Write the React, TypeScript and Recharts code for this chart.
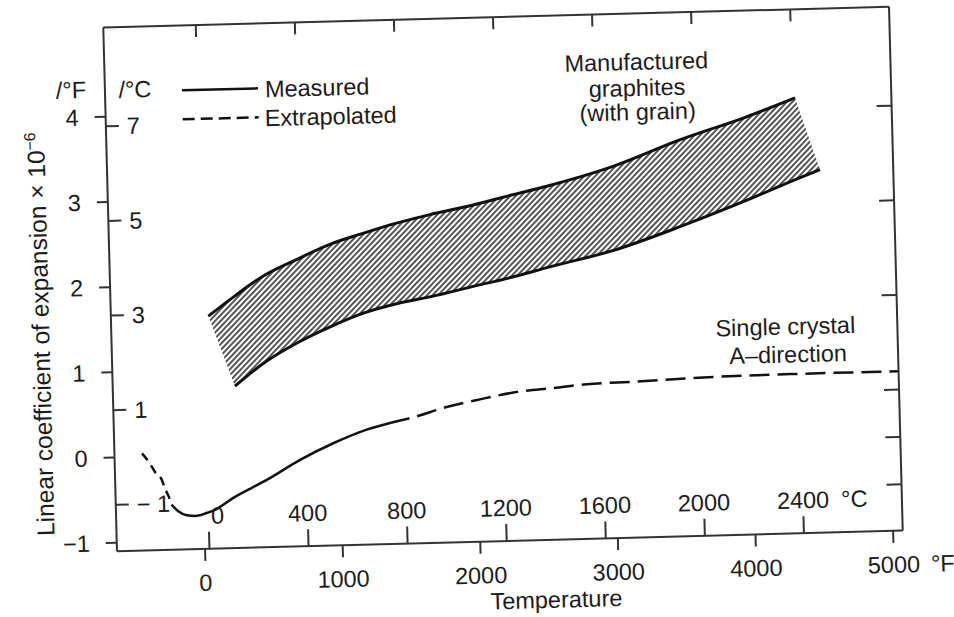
import React from 'react';
import { ComposedChart, XAxis, YAxis, Line, Area } from 'recharts';

const FONT = '"Liberation Sans", Arial, Helvetica, sans-serif';
const INK = '#1c1c1c';
const FRAME = '#333333';

// Temperature scale (°F) with the matching Celsius marks
const fahrenheitTicks = [0, 1000, 2000, 3000, 4000, 5000];
const celsiusTicks = [0, 400, 800, 1200, 1600, 2000, 2400];

// Coefficient scales, ×10⁻⁶ per °F and per °C
const perFTicks = [-1, 0, 1, 2, 3, 4];
const perCTicks = [-1, 1, 3, 5, 7];
const perCRightTicks = [-1, 0, 1, 3, 5, 7];

const tempDomainF: [number, number] = [-640, 5070];
const perFDomain: [number, number] = [-1.1, 5.05];
const perCDomain: [number, number] = [perFDomain[0] * 1.8, perFDomain[1] * 1.8];

// Manufactured graphites (with grain): upper and lower edge of the band
const bandTempF = [68, 248, 460, 710, 955, 1200, 1445, 1690, 2005, 2300, 2550, 3030, 3520, 4010, 4370, 4538];
const bandUpper = [1.63, 1.84, 2.07, 2.26, 2.43, 2.55, 2.66, 2.75, 2.85, 2.96, 3.05, 3.26, 3.55, 3.8, 4.01, 3.16];
const bandLower = [1.63, 0.8, 1.06, 1.29, 1.47, 1.62, 1.72, 1.79, 1.9, 2.0, 2.1, 2.28, 2.54, 2.83, 3.06, 3.16];

// Single crystal, A-direction: extrapolated below, measured, extrapolated above
const crystalLowTempF = [-440, -385, -350, -300, -280, -255, -235];
const crystalLowCoef = [0.04, -0.08, -0.18, -0.28, -0.38, -0.47, -0.57];
const crystalMeasTempF = [-235, -187, -127, -54, 19, 80, 215, 461, 707, 951, 1197, 1367];
const crystalMeasCoef = [-0.57, -0.65, -0.7, -0.71, -0.68, -0.645, -0.51, -0.31, -0.085, 0.1, 0.25, 0.32];
const crystalHighTempF = [1367, 1537, 1782, 2025, 2317, 2559, 2803, 3166, 3578, 4136, 4600, 5070];
const crystalHighCoef = [0.32, 0.38, 0.49, 0.57, 0.65, 0.68, 0.715, 0.73, 0.755, 0.77, 0.772, 0.77];

const toF = (c: number) => (c * 9) / 5 + 32;
const pairs = (xs: number[], ys: number[]) => xs.map((f, i) => ({ f, a: ys[i] }));

const bandRows = bandTempF.map((f, i) => ({ f, range: [bandLower[i], bandUpper[i]] }));
const upperEdge = pairs(bandTempF.slice(0, -1), bandUpper.slice(0, -1));
const lowerEdge = pairs(bandTempF.slice(1), bandLower.slice(1));
const crystalLow = pairs(crystalLowTempF, crystalLowCoef);
const crystalMeas = pairs(crystalMeasTempF, crystalMeasCoef);
const crystalHigh = pairs(crystalHighTempF, crystalHighCoef);

const txt = { fontFamily: FONT, fill: INK, fontSize: 23.5 };

const FTick = (props: any) => {
  const { x, y, payload } = props;
  return (
    <g>
      <text x={x} y={y} dy="0.72em" textAnchor="middle" {...txt}>
        {payload.value}
      </text>
      {payload.value === 5000 && (
        <text x={x + 37} y={y} dy="0.72em" textAnchor="start" {...txt}>
          °F
        </text>
      )}
    </g>
  );
};

const CTick = (props: any) => {
  const { x, y, payload } = props;
  const c = Math.round(((payload.value - 32) * 5) / 9);
  const shift = c === 0 ? 9 : 0;
  return (
    <g>
      <text x={x + shift} y={y} textAnchor="middle" {...txt}>
        {c}
      </text>
      {c === 2400 && (
        <text x={x + 38} y={y} textAnchor="start" {...txt}>
          °C
        </text>
      )}
    </g>
  );
};

const lineProps = { xAxisId: 'f', yAxisId: 'f', dataKey: 'a', dot: false, activeDot: false, isAnimationActive: false } as const;

export default function App() {
  return (
    <div
      style={{
        position: 'absolute',
        left: 0,
        top: 0,
        width: 954,
        height: 617,
        background: '#fff',
        transform: 'rotate(-1.5deg)',
        transformOrigin: '503px 279px',
      }}
    >
      <ComposedChart width={954} height={617} margin={{ top: 17, right: 58, bottom: 26, left: 50 }}>
        <defs>
          <pattern id="hatch" patternUnits="userSpaceOnUse" width="4" height="4" patternTransform="rotate(45)">
            <line x1="1" y1="0" x2="1" y2="4" stroke="#2a2a2a" strokeWidth="1.6" />
          </pattern>
        </defs>

        <XAxis
          xAxisId="f"
          type="number"
          dataKey="f"
          domain={tempDomainF}
          allowDataOverflow
          ticks={fahrenheitTicks}
          interval={0}
          height={50}
          tickSize={12}
          tickMargin={13}
          axisLine={{ stroke: FRAME, strokeWidth: 2 }}
          tickLine={{ stroke: FRAME, strokeWidth: 2 }}
          tick={<FTick />}
        />
        <XAxis
          xAxisId="c"
          type="number"
          dataKey="f"
          domain={tempDomainF}
          allowDataOverflow
          ticks={celsiusTicks.map(toF)}
          interval={0}
          mirror
          axisLine={false}
          tickSize={17}
          tickMargin={8}
          tickLine={{ stroke: FRAME, strokeWidth: 2 }}
          tick={<CTick />}
        />
        <XAxis
          xAxisId="top"
          type="number"
          dataKey="f"
          orientation="top"
          domain={tempDomainF}
          allowDataOverflow
          ticks={celsiusTicks.map(toF)}
          interval={0}
          mirror
          tickSize={12}
          axisLine={{ stroke: FRAME, strokeWidth: 2 }}
          tickLine={{ stroke: FRAME, strokeWidth: 2 }}
          tickFormatter={() => ''}
        />
        <YAxis
          yAxisId="f"
          type="number"
          domain={perFDomain}
          allowDataOverflow
          ticks={perFTicks}
          interval={0}
          width={60}
          tickSize={11}
          tickMargin={16}
          axisLine={{ stroke: FRAME, strokeWidth: 2 }}
          tickLine={{ stroke: FRAME, strokeWidth: 2 }}
          tick={txt}
          tickFormatter={(v: number) => (v < 0 ? `−${Math.abs(v)}` : `${v}`)}
        />
        <YAxis
          yAxisId="c"
          type="number"
          domain={perCDomain}
          allowDataOverflow
          ticks={perCTicks}
          interval={0}
          mirror
          axisLine={false}
          tickSize={13}
          tickMargin={8}
          tickLine={{ stroke: FRAME, strokeWidth: 2 }}
          tick={txt}
          tickFormatter={(v: number) => (v < 0 ? `− ${Math.abs(v)}` : `${v}`)}
        />
        <YAxis
          yAxisId="r"
          type="number"
          orientation="right"
          domain={perCDomain}
          allowDataOverflow
          ticks={perCRightTicks}
          interval={0}
          mirror
          tickSize={15}
          axisLine={{ stroke: FRAME, strokeWidth: 2 }}
          tickLine={{ stroke: FRAME, strokeWidth: 2 }}
          tickFormatter={() => ''}
        />

        <Area
          xAxisId="f"
          yAxisId="f"
          data={bandRows}
          dataKey="range"
          type="linear"
          fill="url(#hatch)"
          fillOpacity={1}
          stroke="none"
          isAnimationActive={false}
          activeDot={false}
        />
        <Line {...lineProps} data={upperEdge} type="monotone" stroke="#111" strokeWidth={3} />
        <Line {...lineProps} data={lowerEdge} type="monotone" stroke="#111" strokeWidth={3} />

        <Line {...lineProps} data={crystalLow} type="monotone" stroke="#111" strokeWidth={2.5} strokeDasharray="9 6" />
        <Line {...lineProps} data={crystalMeas} type="monotone" stroke="#111" strokeWidth={2.5} />
        <Line {...lineProps} data={crystalHigh} type="monotone" stroke="#111" strokeWidth={2.5} strokeDasharray="20 8" />

        {/* unit headers over the two coefficient scales */}
        <text x={76} y={87} textAnchor="middle" {...txt}>/°F</text>
        <text x={140} y={88} textAnchor="middle" {...txt}>/°C</text>

        {/* key */}
        <line x1={187} y1={82} x2={263} y2={82} stroke="#111" strokeWidth={2.5} />
        <text x={270} y={91} {...txt}>Measured</text>
        <line x1={187} y1={111} x2={263} y2={111} stroke="#111" strokeWidth={2.5} strokeDasharray="12 6" />
        <text x={269} y={120} {...txt}>Extrapolated</text>

        {/* series captions */}
        <text x={642} y={73.5} textAnchor="middle" {...txt}>Manufactured</text>
        <text x={642} y={99.5} textAnchor="middle" {...txt}>graphites</text>
        <text x={642} y={123.5} textAnchor="middle" {...txt}>(with grain)</text>
        <text x={784} y={342} textAnchor="middle" {...txt}>Single crystal</text>
        <text x={786} y={370} textAnchor="middle" {...txt}>A–direction</text>

        {/* axis titles */}
        <text x={548} y={609} textAnchor="middle" {...txt}>Temperature</text>
        <text x={48} y={322} textAnchor="middle" transform="rotate(-90 48 322)" {...txt} fontSize={24.5}>
          Linear coefficient of expansion × 10
          <tspan dy={-9} fontSize={16}>−6</tspan>
        </text>
      </ComposedChart>
    </div>
  );
}
